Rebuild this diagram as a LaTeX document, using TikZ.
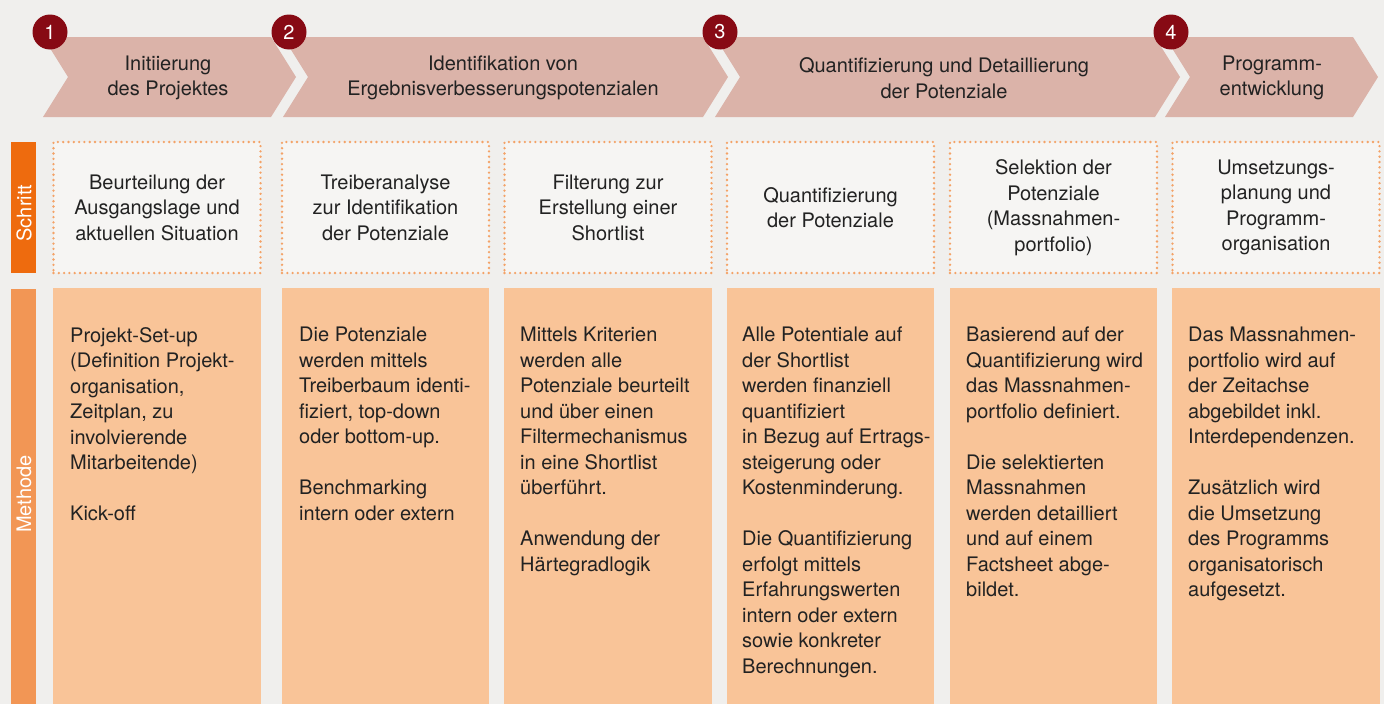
\documentclass[tikz,border=0pt]{standalone}
\usepackage{fontspec}
\setmainfont{TeX Gyre Heros}
\usepackage{tikz}

\definecolor{bgcol}{HTML}{F0EFED}
\definecolor{phasecol}{HTML}{DBB3A9}
\definecolor{numcol}{HTML}{870A14}
\definecolor{schrittcol}{HTML}{EE6B0E}
\definecolor{methodecol}{HTML}{F29655}
\definecolor{stepfill}{HTML}{F6F5F3}
\definecolor{dotcol}{HTML}{F4A266}
\definecolor{methfill}{HTML}{F9C498}
\definecolor{txtcol}{HTML}{222222}

\tikzset{
  txt/.style={font=\fontsize{20}{25.5}\selectfont, text=txtcol, inner sep=0pt},
  num/.style={circle, fill=numcol, minimum size=35pt, inner sep=0pt, text=white, font=\fontsize{20}{20}\selectfont},
  stepbox/.style={txt, rectangle, fill=stepfill, draw=dotcol, line width=2.6pt, dash pattern=on 0pt off 5.3pt, line cap=round, minimum width=207pt, minimum height=131pt, align=center},
  methtxt/.style={txt, align=left, anchor=north west},
  sidetxt/.style={font=\fontsize{20}{20}\selectfont, text=white, rotate=90, inner sep=0pt}
}

\begin{document}
\begin{tikzpicture}[x=1pt,y=-1pt]
    % Hintergrund
    \fill[bgcol] (0,0) rectangle (1384,704);
    \useasboundingbox (0,0) rectangle (1384,704);

    % Phasen (Pfeile)
    \fill[phasecol] (43,37) -- (271,37) -- (296,77) -- (271,117) -- (43,117) -- (68,77) -- cycle;
    \fill[phasecol] (283,37) -- (703,37) -- (728,77) -- (703,117) -- (283,117) -- (308,77) -- cycle;
    \fill[phasecol] (715,37) -- (1155,37) -- (1180,77) -- (1155,117) -- (715,117) -- (740,77) -- cycle;
    \fill[phasecol] (1165,37) -- (1353,37) -- (1378,77) -- (1353,117) -- (1165,117) -- (1190,77) -- cycle;

    \node[txt, align=center] (p1) at (168,78) {Initiierung\\des Projektes};
    \node[txt, align=center] (p2) at (503,78) {Identifikation von\\Ergebnisverbesserungspotenzialen};
    \node[txt, align=center] (p3) at (944,78) {Quantifizierung und Detaillierung\\der Potenziale};
    \node[txt, align=center] (p4) at (1272,78) {Programm-\\entwicklung};

    % Nummern
    \node[num] (n1) at (50,32) {1};
    \node[num] (n2) at (289,32) {2};
    \node[num] (n3) at (720,32) {3};
    \node[num] (n4) at (1171,32) {4};

    % Seitenleisten
    \fill[schrittcol] (11,142) rectangle (36,273);
    \node[sidetxt] (schritt) at (24,213) {Schritt};
    \fill[methodecol] (11,289) rectangle (36,704);
    \node[sidetxt] (methode) at (24,494) {Methode};

    % Schritte
    \node[stepbox] (s1) at (157,207.5) {Beurteilung der\\Ausgangslage und\\aktuellen Situation};
    \node[stepbox] (s2) at (385.5,207.5) {Treiberanalyse\\zur Identifikation\\der Potenziale};
    \node[stepbox] (s3) at (608,207.5) {Filterung zur\\Erstellung einer\\Shortlist};
    \node[stepbox] (s4) at (830.5,207.5) {Quantifizierung\\der Potenziale};
    \node[stepbox] (s5) at (1053.5,207.5) {Selektion der\\Potenziale\\(Massnahmen-\\portfolio)};
    \node[stepbox] (s6) at (1276,207.5) {Umsetzungs-\\planung und\\Programm-\\organisation};

    % Methoden
    \fill[methfill] (53,288) rectangle (261,704);
    \fill[methfill] (282,288) rectangle (489,704);
    \fill[methfill] (504,288) rectangle (712,704);
    \fill[methfill] (727,288) rectangle (934,704);
    \fill[methfill] (950,288) rectangle (1157,704);
    \fill[methfill] (1172,288) rectangle (1380,704);

    \node[methtxt] (m1) at (70,327) {Projekt-Set-up\\(Definition Projekt-\\organisation,\\Zeitplan, zu\\involvierende\\Mitarbeitende)\\[25.5pt]Kick-off};
    \node[methtxt] (m2) at (299,327) {Die Potenziale\\werden mittels\\Treiberbaum identi-\\fiziert, top-down\\oder bottom-up.\\[25.5pt]Benchmarking\\intern oder extern};
    \node[methtxt] (m3) at (520,327) {Mittels Kriterien\\werden alle\\Potenziale beurteilt\\und über einen\\Filtermechanismus\\in eine Shortlist\\überführt.\\[25.5pt]Anwendung der\\Härtegradlogik};
    \node[methtxt] (m4) at (742,327) {Alle Potentiale auf\\der Shortlist\\werden finanziell\\quantifiziert\\in Bezug auf Ertrags-\\steigerung oder\\Kostenminderung.\\[25.5pt]Die Quantifizierung\\erfolgt mittels\\Erfahrungswerten\\intern oder extern\\sowie konkreter\\Berechnungen.};
    \node[methtxt] (m5) at (966,327) {Basierend auf der\\Quantifizierung wird\\das Massnahmen-\\portfolio definiert.\\[25.5pt]Die selektierten\\Massnahmen\\werden detailliert\\und auf einem\\Factsheet abge-\\bildet.};
    \node[methtxt] (m6) at (1188,327) {Das Massnahmen-\\portfolio wird auf\\der Zeitachse\\abgebildet inkl.\\Interdependenzen.\\[25.5pt]Zusätzlich wird\\die Umsetzung\\des Programms\\organisatorisch\\aufgesetzt.};
\end{tikzpicture}
\end{document}
